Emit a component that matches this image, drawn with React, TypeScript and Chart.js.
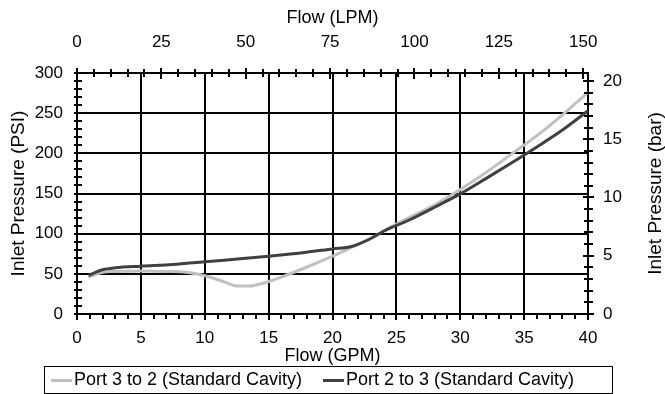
import React, { useEffect, useRef } from 'react';
import { Chart, registerables } from 'chart.js';

Chart.register(...registerables);

// ---- data ----
const gpmPort3to2 = [0.9, 2, 3, 5, 7, 8.5, 9.5, 10.5, 11.5, 12.5, 13.5, 14.5, 16, 18, 20, 21.6, 23, 24.5, 26, 28, 30, 32, 34, 36, 38, 40];
const psiPort3to2 = [46, 52, 53, 53.5, 53, 52, 49.5, 45.5, 40, 35, 34.8, 38, 46, 58.5, 72, 84, 94, 108, 120, 136, 155, 176, 199, 222, 248, 276];

const gpmPort2to3 = [0.9, 2, 3, 5, 7.5, 10, 13, 15, 17.5, 20, 21.5, 23, 24, 26, 28, 30, 32, 34, 36, 38, 40];
const psiPort2to3 = [48, 55, 57.5, 59.5, 61.5, 65, 69, 72, 76, 81, 84, 94, 103, 117, 133, 149.5, 168.5, 188, 208, 229, 253];

const seriesLabels = ['Port 3 to 2 (Standard Cavity)', 'Port 2 to 3 (Standard Cavity)'];
const seriesColors = ['#c0c0c0', '#404040'];

const xTitle = 'Flow (GPM)';
const x2Title = 'Flow (LPM)';
const yTitle = 'Inlet Pressure (PSI)';
const y2Title = 'Inlet Pressure (bar)';

const gpmRange = [0, 40];
const psiRange = [0, 300];
const gpmStep = 5;
const lpmStep = 25;
const psiStep = 50;
const barStep = 5;
const LPM_PER_GPM = 3.78541;
const PSI_PER_BAR = 14.5038;

const FONT = "'Liberation Sans', Arial, Helvetica, sans-serif";

const minorTicksPlugin = {
  id: 'minorTicks',
  afterDraw(chart: any) {
    const { ctx, chartArea } = chart;
    const sx = chart.scales.x, sx2 = chart.scales.x2, sy = chart.scales.y, sy2 = chart.scales.y2;
    ctx.save();
    ctx.strokeStyle = '#000';
    ctx.lineWidth = 2;
    ctx.beginPath();
    for (let v = gpmRange[0]; v <= gpmRange[1]; v += 1) {
      const p = Math.round(sx.getPixelForValue(v));
      ctx.moveTo(p, chartArea.bottom);
      ctx.lineTo(p, chartArea.bottom + (v % 5 === 0 ? 6 : 5));
    }
    for (let v = psiRange[0]; v <= psiRange[1]; v += 10) {
      const p = Math.round(sy.getPixelForValue(v));
      ctx.moveTo(chartArea.left - 3, p);
      ctx.lineTo(chartArea.left + 5, p);
    }
    for (let v = 0; v <= sx2.max + 0.001; v += 5) {
      const p = Math.round(sx2.getPixelForValue(v));
      const major = v % 25 === 0;
      ctx.moveTo(p, chartArea.top - (major ? 5 : 4));
      ctx.lineTo(p, chartArea.top + (major ? 6 : 4));
    }
    for (let v = 0; v <= sy2.max + 0.001; v += 1) {
      const p = Math.round(sy2.getPixelForValue(v));
      const major = v % 5 === 0;
      ctx.moveTo(chartArea.right - (major ? 5 : 4), p);
      ctx.lineTo(chartArea.right + (major ? 6 : 5), p);
    }
    ctx.stroke();

    ctx.fillStyle = '#000';
    ctx.font = `19px ${FONT}`;
    ctx.textAlign = 'center';
    ctx.textBaseline = 'middle';
    ctx.translate(sy2.right - 9, (sy2.top + sy2.bottom) / 2);
    ctx.rotate(-Math.PI / 2);
    ctx.fillText(y2Title, 0, 0);
    ctx.restore();

    ctx.save();
    const boxL = 44, boxR = 612, boxT = 366, boxB = 393;
    ctx.strokeStyle = '#000';
    ctx.lineWidth = 1;
    ctx.strokeRect(boxL + 0.5, boxT + 0.5, boxR - boxL, boxB - boxT);
    const cy = (boxT + boxB) / 2 + 1;
    const starts = [51, 323];
    ctx.font = `18px ${FONT}`;
    ctx.textAlign = 'left';
    ctx.textBaseline = 'middle';
    chart.data.datasets.forEach((ds: any, i: number) => {
      const x0 = starts[i];
      ctx.strokeStyle = ds.borderColor;
      ctx.lineWidth = 3;
      ctx.beginPath();
      ctx.moveTo(x0, cy);
      ctx.lineTo(x0 + 21, cy);
      ctx.stroke();
      ctx.fillStyle = '#000';
      ctx.fillText(ds.label, x0 + 23, cy);
    });
    ctx.restore();
  },
};

export default function App() {
  const canvasRef = useRef<HTMLCanvasElement | null>(null);

  useEffect(() => {
    const canvas = canvasRef.current;
    if (!canvas) return;
    const tickFont = { family: FONT, size: 17 };
    const titleFont = { family: FONT, size: 18 };
    const chart = new Chart(canvas, {
      type: 'line',
      data: {
        datasets: [
          {
            label: seriesLabels[0],
            data: gpmPort3to2.map((x, i) => ({ x, y: psiPort3to2[i] })),
            borderColor: seriesColors[0],
            backgroundColor: seriesColors[0],
            borderWidth: 3,
            pointRadius: 0,
            cubicInterpolationMode: 'monotone',
            fill: false,
            order: 2,
          },
          {
            label: seriesLabels[1],
            data: gpmPort2to3.map((x, i) => ({ x, y: psiPort2to3[i] })),
            borderColor: seriesColors[1],
            backgroundColor: seriesColors[1],
            borderWidth: 3,
            pointRadius: 0,
            cubicInterpolationMode: 'monotone',
            fill: false,
            order: 1,
          },
        ],
      },
      options: {
        animation: false,
        responsive: false,
        maintainAspectRatio: false,
        layout: { padding: 0 },
        plugins: { legend: { display: false }, tooltip: { enabled: false } },
        scales: {
          x: {
            type: 'linear',
            position: 'bottom',
            min: gpmRange[0],
            max: gpmRange[1],
            ticks: { stepSize: gpmStep, padding: 14, color: '#000', font: tickFont, maxRotation: 0, autoSkip: false },
            grid: { color: '#000', lineWidth: 2, drawTicks: false },
            border: { color: '#000', width: 2 },
            title: { display: true, text: xTitle, color: '#000', font: titleFont, padding: { top: 0, bottom: 27 } },
            afterFit: (s: any) => { s.height = 80; },
          },
          x2: {
            type: 'linear',
            position: 'top',
            min: gpmRange[0] * LPM_PER_GPM,
            max: gpmRange[1] * LPM_PER_GPM,
            ticks: { stepSize: lpmStep, includeBounds: false, padding: 20, color: '#000', font: tickFont, maxRotation: 0, autoSkip: false },
            grid: { display: false, drawTicks: false },
            border: { color: '#000', width: 2 },
            title: { display: true, text: x2Title, color: '#000', font: titleFont, padding: { top: 7, bottom: 0 } },
            afterFit: (s: any) => { s.height = 73; },
          },
          y: {
            type: 'linear',
            position: 'left',
            min: psiRange[0],
            max: psiRange[1],
            ticks: { stepSize: psiStep, padding: 14, color: '#000', font: tickFont },
            grid: { color: '#000', lineWidth: 2, drawTicks: false },
            border: { color: '#000', width: 2 },
            title: { display: true, text: yTitle, color: '#000', font: { family: FONT, size: 19 }, padding: { top: 7, bottom: 0 } },
            afterFit: (s: any) => { s.width = 77; },
          },
          y2: {
            type: 'linear',
            position: 'right',
            min: psiRange[0] / PSI_PER_BAR,
            max: psiRange[1] / PSI_PER_BAR,
            ticks: { stepSize: barStep, includeBounds: false, padding: 15, color: '#000', font: tickFont },
            grid: { display: false, drawTicks: false },
            border: { color: '#000', width: 2 },
            afterFit: (s: any) => { s.width = 77; },
          },
        },
      },
      plugins: [minorTicksPlugin],
    } as any);
    return () => chart.destroy();
  }, []);

  return (
    <div style={{ position: 'fixed', left: 0, top: 0, width: 665, height: 394, background: '#fff' }}>
      <canvas ref={canvasRef} width={665} height={394} style={{ width: 665, height: 394, display: 'block' }} />
    </div>
  );
}
